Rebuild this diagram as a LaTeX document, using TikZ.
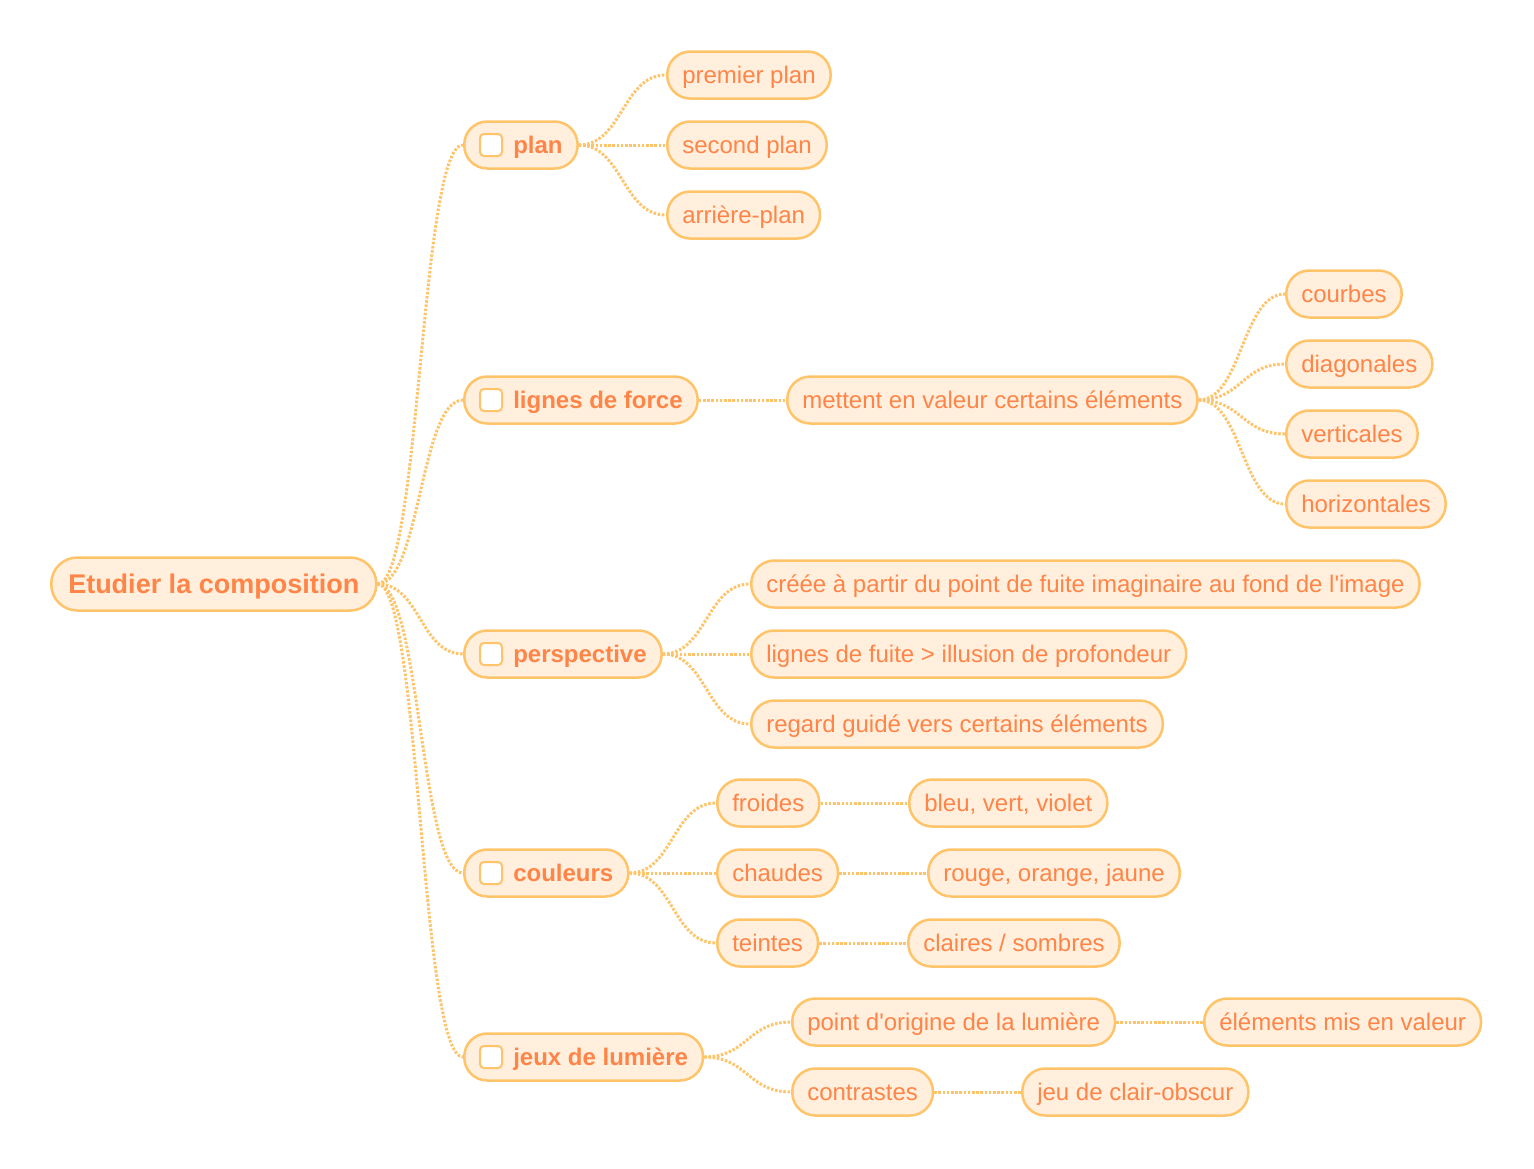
\documentclass[tikz,border=0pt]{standalone}
\usepackage{fontspec}
\setmainfont{Liberation Sans}
\usepackage{tikz}
\usetikzlibrary{calc}
\definecolor{mmline}{HTML}{FFC469}
\definecolor{mmfill}{HTML}{FFEFDC}
\definecolor{mmtext}{HTML}{FF8447}

\begin{document}
\begin{tikzpicture}[x=1pt, y=-1pt,
  leaf/.style={draw=mmline, fill=mmfill, text=mmtext, line width=2.5pt, rounded corners=23pt,
    minimum height=47pt, inner xsep=15pt, inner ysep=0pt, text height=18pt, text depth=2pt,
    anchor=west, font=\fontsize{24}{28}\selectfont},
  topic/.style={leaf, font=\fontsize{24}{28}\selectfont\bfseries},
  rootbox/.style={leaf, minimum height=53pt, rounded corners=26pt, inner xsep=17pt,
    text height=20pt, text depth=2pt, font=\fontsize{27}{32}\selectfont\bfseries},
  chk/.style={draw=mmline, fill=white, line width=2pt, rounded corners=4pt, minimum size=22pt, inner sep=0pt},
  conn/.style={draw=mmline, line width=3pt, dash pattern=on 2.5pt off 1.7pt}]
 	\useasboundingbox (0,0) rectangle (1534,1168);
 	% root and main topics
 	\node[rootbox] (root) at (50,584) {Etudier la composition};
 	\node[topic] (plan) at (463,145) {\hspace*{34pt}plan};
 	\node[topic] (force) at (463,400) {\hspace*{34pt}lignes de force};
 	\node[topic] (persp) at (463,654) {\hspace*{34pt}perspective};
 	\node[topic] (coul) at (463,873) {\hspace*{34pt}couleurs};
 	\node[topic] (lum) at (463,1057) {\hspace*{34pt}jeux de lumière};
 	\foreach \t in {plan,force,persp,coul,lum}
 		\node[chk] (\t-box) at ([xshift=28pt]\t.west) {};
 	% plan
 	\node[leaf] (premier) at (666,75) {premier plan};
 	\node[leaf] (second) at (666,145) {second plan};
 	\node[leaf] (arriere) at (666,215) {arrière-plan};
 	% lignes de force
 	\node[leaf] (valeur) at (786,400) {mettent en valeur certains éléments};
 	\node[leaf] (courbes) at (1285,294) {courbes};
 	\node[leaf] (diag) at (1285,364) {diagonales};
 	\node[leaf] (vert) at (1285,434) {verticales};
 	\node[leaf] (horiz) at (1285,504) {horizontales};
 	% perspective
 	\node[leaf] (creee) at (750,584) {créée à partir du point de fuite imaginaire au fond de l\textquotesingle image};
 	\node[leaf] (fuite) at (750,654) {lignes de fuite > illusion de profondeur};
 	\node[leaf] (regard) at (750,724) {regard guidé vers certains éléments};
 	% couleurs
 	\node[leaf] (froides) at (716,803) {froides};
 	\node[leaf] (chaudes) at (716,873) {chaudes};
 	\node[leaf] (teintes) at (716,943) {teintes};
 	\node[leaf] (bleu) at (908,803) {bleu, vert, violet};
 	\node[leaf] (rouge) at (927,873) {rouge, orange, jaune};
 	\node[leaf] (claires) at (907,943) {claires / sombres};
 	% jeux de lumiere
 	\node[leaf] (origine) at (791,1022) {point d\textquotesingle origine de la lumière};
 	\node[leaf] (mis) at (1203,1022) {éléments mis en valeur};
 	\node[leaf] (contr) at (791,1092) {contrastes};
 	\node[leaf] (clair) at (1021,1092) {jeu de clair-obscur};
 	% branches
 	\foreach \a/\b in {root/plan, root/force, root/persp, root/coul, root/lum,
 		plan/premier, plan/second, plan/arriere,
 		force/valeur, valeur/courbes, valeur/diag, valeur/vert, valeur/horiz,
 		persp/creee, persp/fuite, persp/regard,
 		coul/froides, coul/chaudes, coul/teintes,
 		froides/bleu, chaudes/rouge, teintes/claires,
 		lum/origine, lum/contr, origine/mis, contr/clair} {
 		\coordinate (m) at ($(\a.east)!.5!(\b.west)$);
 		\draw[conn] (\a.east) .. controls (m |- \a.east) and (m |- \b.west) .. (\b.west);
 	}
\end{tikzpicture}
\end{document}
